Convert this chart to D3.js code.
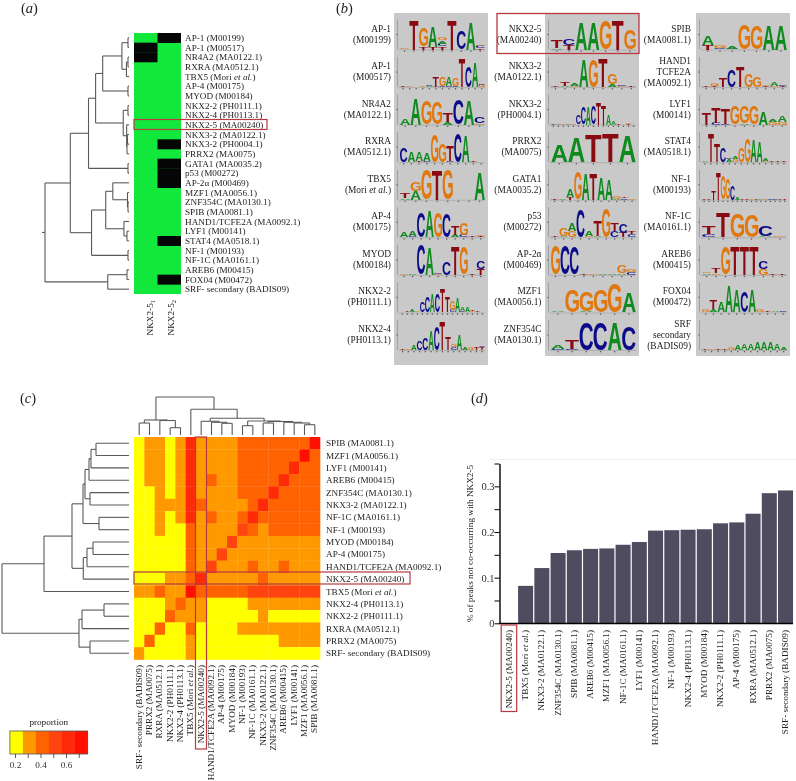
<!DOCTYPE html>
<html><head><meta charset="utf-8">
<script src="https://cdn.jsdelivr.net/npm/d3@7"></script>
<style>
html,body{margin:0;padding:0;background:#fff}
svg{display:block;filter:blur(0.3px)}
text{font-family:"Liberation Serif",serif;fill:#222}
</style></head><body>
<svg id="c" width="796" height="781"></svg>
<script>
// ---------- Panel (a) ----------
const aLabels=["AP-1 (M00199)","AP-1 (M00517)","NR4A2 (MA0122.1)","RXRA (MA0512.1)","TBX5 (Mori et al.)","AP-4 (M00175)","MYOD (M00184)","NKX2-2 (PH0111.1)","NKX2-4 (PH0113.1)","NKX2-5 (MA00240)","NKX3-2 (MA0122.1)","NKX3-2 (PH0004.1)","PRRX2 (MA0075)","GATA1 (MA0035.2)","p53 (M00272)","AP-2α (M00469)","MZF1 (MA0056.1)","ZNF354C (MA0130.1)","SPIB (MA0081.1)","HAND1/TCFE2A (MA0092.1)","LYF1 (M00141)","STAT4 (MA0518.1)","NF-1 (M00193)","NF-1C (MA0161.1)","AREB6 (M00415)","FOX04 (M00472)","SRF- secondary (BADIS09)"];
const aAbsentCol1=[1,2];
const aAbsentCol2=[0,11,13,14,15,21,25];
// nested merges: [height, childA, childB]; numbers are leaf rows
const aTree=[83,
 [58,
  [40,
   [33,
    [26,[7,[1,0,1],[2.5,[1,2,3],4]],[1,5,6]],
    [5.7,[1,7,8],[2.3,9,[2,[1.5,10,11],12]]]],
   [1,13,14]],
  [37,
   [23,[16,15,[1.5,16,[1,17,18]]],[5,19,[2,20,21]]],
   [1,22,23]]],
 [21,[2,24,25],26]];

// ---------- Panel (b) : sequence logos, bottom-up letter stacks, 10 = tallest ----------
const bCol1=[
 {name:["AP-1","(M00199)"],logo:["G.4","T10","T1G6","T1A7","T1C1A1G1","T10","C6","A9","T.4C.8G.6"]},
 {name:["AP-1","(M00517)"],logo:["T.5","G.2","-","G.4","A.4C.2","T.4T3","C.3G3","C.3A3","C.3G2.5","T9.5","C7","A8","G.8C.3"]},
 {name:["NR4A2","(MA0122.1)"],logo:["A2","A8.5","G8","G7.5","A1T3","C8.5","A8","G.5C2"]},
 {name:["RXRA","(MA0512.1)"],logo:["C5","A3.5","T.3A3","C.5A2.5","G9","G6","C.5T5","C9.5","A8.5","T.5","-"]},
 {name:["TBX5","(Mori et al.)"],logo:["A.5T1.5","A3G3","G10","T10","G10","-","-","A9"]},
 {name:["AP-4","(M00175)"],logo:["A1.5","C.5A1.5","C8.5","A8.5","G8.5","C8","A.7T3","C.7G4","T.5","T.3G.3"]},
 {name:["MYOD","(M00184)"],logo:["G.2","A.5","C10","A9","G.4C.3","C4.5","T9.5","G9","T.4","T2C2.5"]},
 {name:["NKX2-2","(PH0111.1)"],logo:["-","T.3","A.6","G.6","C3.5","C5.3","A6","C6.2","T7.8","T5","C.8G3","A4.5","C.5A1.3","A1.5","G.4T.5","T.4","-"]},
 {name:["NKX2-4","(PH0113.1)"],logo:["T.3","G.5","A1.5","C3","C4","A6.5","C8","T9.5","T4.5","C1G.8","A5","A1","G1","T1","T1C.5"]}
];
const bCol2=[
 {name:["NKX2-5","(MA00240)"],logo:["A.5T2.5","T1.5C2","A9","A9","G9.5","T9.8","G6.5"]},
 {name:["NKX3-2","(MA0122.1)"],logo:["T.2","A.2T1.3","G.2A.7","A9","G9","T9.5","A1G3.3","G.3C.3","T.2"]},
 {name:["NKX3-2","(PH0004.1)"],logo:["T.2","A.3","G.5","A.4","G.6","C3","C5.5","A6","C6","T7.5","T6.5","A3.5","A1.2","T.2","-","T.3G.5","-"]},
 {name:["PRRX2","(MA0075)"],logo:["A5.5","A8","T9","T9.5","A8.5"]},
 {name:["GATA1","(MA0035.2)"],logo:["T.2","A.3","T1A2.5","G9","A8.5","T8.5","A7.5","A7","A.3G1","C.5T.2","G.2"]},
 {name:["p53","(M00272)"],logo:["T.2","A.5G2.5","G2A2.5","C9","G.5A1.5","A.5T5","G9.5","C2T2.5","T1.5C3","C1T1"]},
 {name:["AP-2α","(M00469)"],logo:["G9.5","C9.5","C9","T.2","G.2","A.2","A.5","A.5G2.5","C1G1"]},
 {name:["MZF1","(MA0056.1)"],logo:["A.2","G7.5","A.5G6.5","G7.5","G9.5","A6.5"]},
 {name:["ZNF354C","(MA0130.1)"],logo:["C.5A1.2","C.5T3","C9","C9","A9","C8"]}
];
const bCol3=[
 {name:["SPIB","(MA0081.1)"],logo:["T1.5A3","C.5G1","C.3A.7","G8.5","G8","A8","A8"]},
 {name:["HAND1","TCFE2A","(MA0092.1)"],logo:["T.2","T.5G.8","T3","C5.5","T7","G4.5","G3.5","T.3G.5","G.3A1.2","T.5C.5"]},
 {name:["LYF1","(M00141)"],logo:["T4","C.7T5","C.3T5","G6","A.3G5.5","G6","A4.2","G1A.8","G1A2"]},
 {name:["STAT4","(MA0518.1)"],logo:["A.5","T9.5","T6","C4.8","A1C.6","G1A1","G5","G8","A7.5","A7","G.5A1","T.2","T.2","T.4"]},
 {name:["NF-1","(M00193)"],logo:["T.2","T.2","T3","T9","G8","G7","C5","A.6","T.2","T.3","G.2","T.2","A.5","G.4","C.6","C.5","T.2","T.2"]},
 {name:["NF-1C","(MA0161.1)"],logo:["C1T2.5","T8","G8","G7.5","A.5C3.5","G.4"]},
 {name:["AREB6","(M00415)"],logo:["A.5G.5","G.5T1.5","G9","T9.5","T9.5","T9.5","G2C2.5","T.2","T.2"]},
 {name:["FOX04","(M00472)"],logo:["G1","A1T3","A3.5","A8.5","A7.5","C7","A7.5","G.8","T.2","A.3","C.2"]},
 {name:["SRF","secondary","(BADIS09)"],logo:["T.2","G.2","T.3","T.2","G1","A1.5","A2","A2","A2.5","A2.5","A2.5","A2","A1"]}
];

// ---------- Panel (c) ----------
const cRows=["SPIB (MA0081.1)","MZF1 (MA0056.1)","LYF1 (M00141)","AREB6 (M00415)","ZNF354C (MA0130.1)","NKX3-2 (MA0122.1)","NF-1C (MA0161.1)","NF-1 (M00193)","MYOD (M00184)","AP-4 (M00175)","HAND1/TCFE2A (MA0092.1)","NKX2-5 (MA00240)","TBX5 (Mori et al.)","NKX2-4 (PH0113.1)","NKX2-2 (PH0111.1)","RXRA (MA0512.1)","PRRX2 (MA0075)","SRF- secondary (BADIS09)"];
const cCols=["SRF- secondary (BADIS09)","PRRX2 (MA0075)","RXRA (MA0512.1)","NKX2-2 (PH0111.1)","NKX2-4 (PH0113.1)","TBX5 (Mori et al.)","NKX2-5 (MA00240)","HAND1/TCFE2A (MA0092.1)","AP-4 (M00175)","MYOD (M00184)","NF-1 (M00193)","NF-1C (MA0161.1)","NKX3-2 (MA0122.1)","ZNF354C (MA0130.1)","AREB6 (M00415)","LYF1 (M00141)","MZF1 (MA0056.1)","SPIB (MA0081.1)"];
// proportion in tenths
const cMatrix=[
 [2,3,3,2,3,6,3,3,3,3,4,4,4,4,4,4,4,7],
 [2,3,3,2,3,6,3,3,3,3,4,4,4,4,4,4,7,4],
 [2,3,3,2,3,6,3,3,3,3,4,4,4,4,4,6,4,4],
 [2,3,3,2,3,6,3,4,3,3,4,4,4,4,6,4,4,4],
 [2,2,3,2,3,6,3,3,3,3,4,4,4,6,4,4,4,4],
 [2,2,3,3,3,6,4,3,3,3,3,4,6,4,4,4,4,4],
 [2,2,3,2,3,6,3,4,3,3,4,6,4,4,4,4,4,4],
 [2,2,3,2,2,4,3,3,3,3,5,4,3,4,4,4,4,4],
 [2,2,2,2,2,4,3,3,3,5,3,3,3,3,3,3,3,3],
 [2,2,2,2,2,4,3,3,5,3,3,3,3,3,3,3,3,3],
 [2,2,2,2,2,4,3,5,3,3,3,4,3,3,4,3,3,3],
 [2,2,2,3,3,4,6,3,3,3,3,3,4,3,3,3,3,3],
 [3,3,4,3,3,7,4,4,4,4,4,5,5,5,5,5,5,5],
 [2,2,2,3,4,3,3,2,2,2,2,3,3,3,3,3,3,3],
 [2,2,2,4,3,3,3,2,2,2,2,2,3,2,2,2,2,2],
 [2,2,4,2,2,4,2,2,2,2,3,3,3,3,3,3,3,3],
 [2,4,2,2,2,3,2,2,2,2,2,2,2,2,3,3,3,3],
 [3,2,2,2,2,3,2,2,2,2,2,2,2,2,2,2,2,2]];
const cRowTree=[127,
 [85,
  [57,
   [46,[44,[40,[38,[33,0,1],2],3],[39,4,5]],[30,6,7]],
   [45.7,[42,[36,8,9],10],11]],
  12],
 [50,[47,[25,13,14],15],[39,16,17]]];
const cColTree=[38,
 [15,[12,0,1],[14.5,2,[7.3,3,4]]],
 [25.7,5,
  [16.7,
   [13.7,6,[12.7,7,[11.7,8,9]]],
   [14,[9.3,10,11],[13.5,[12,12,13],[12.7,14,[12,15,[10.3,16,17]]]]]]]];
const legendColors=["#ffff00","#ff9900","#ff6200","#ff4410","#ff2a08","#ff0f00"];
const legendTicks=[0.2,0.3,0.4,0.5,0.6,0.7];

// ---------- Panel (d) ----------
const dNames=["NKX2-5 (MA00240)","TBX5 (Mori et al.)","NKX3-2 (MA0122.1)","ZNF354C (MA0130.1)","SPIB (MA0081.1)","AREB6 (M00415)","MZF1 (MA0056.1)","NF-1C (MA0161.1)","LYF1 (M00141)","HAND1/TCFE2A (MA0092.1)","NF-1 (M00193)","NKX2-4 (PH0113.1)","MYOD (M00184)","NKX2-2 (PH0111.1)","AP-4 (M00175)","RXRA (MA0512.1)","PRRX2 (MA0075)","SRF- secondary (BADIS09)"];
const dValues=[0,0.082,0.121,0.154,0.160,0.163,0.164,0.172,0.178,0.203,0.204,0.205,0.206,0.219,0.221,0.240,0.285,0.291];
const dTicks=[0,0.05,0.1,0.15,0.2,0.25,0.3,0.35];

// ---------- helpers ----------
const svg=d3.select("#c");
const FS=9.2, RED="#b8393f";
function label(g,str){ // writes text with "et al." in italics
  const m=str.match(/^(.*?)(et al\.)(.*)$/);
  if(!m){g.text(str);return g;}
  g.append("tspan").text(m[1]);
  g.append("tspan").style("font-style","italic").text(m[2]);
  if(m[3])g.append("tspan").text(m[3]);
  return g;
}
function dendro(g,tree,leafPos,hPos,horizontal){
  const root=d3.hierarchy(tree,d=>Array.isArray(d)?d.slice(1):null);
  root.eachAfter(n=>{
    if(n.children){n.h=n.data[0];n.p=d3.mean(n.children,c=>c.p);}
    else{n.h=0;n.p=leafPos(n.data);}
  });
  const seg=[];
  root.each(n=>{
    if(!n.children)return;
    const a=n.children[0],b=n.children[1];
    seg.push([hPos(a.h),a.p,hPos(n.h),a.p],[hPos(n.h),a.p,hPos(n.h),b.p],[hPos(n.h),b.p,hPos(b.h),b.p]);
  });
  g.selectAll("line").data(seg).join("line")
   .attr("x1",d=>horizontal?d[0]:d[1]).attr("y1",d=>horizontal?d[1]:d[0])
   .attr("x2",d=>horizontal?d[2]:d[3]).attr("y2",d=>horizontal?d[3]:d[2])
   .attr("stroke","#5a5a5a").attr("stroke-width",1.1);
  return root;
}
function redBox(x,y,w,h,sw){
  svg.append("rect").attr("x",x).attr("y",y).attr("width",w).attr("height",h)
    .attr("fill","none").attr("stroke",RED).attr("stroke-width",sw||1.2);
}
function panelTag(x,y,ch){
  const t=svg.append("text").attr("x",x).attr("y",y).attr("font-size",14.5);
  t.append("tspan").text("(");
  t.append("tspan").style("font-style","italic").text(ch);
  t.append("tspan").text(")");
}
panelTag(21,13,"a");panelTag(336,13,"b");panelTag(20,403,"c");panelTag(471,403,"d");

// ---------- draw (a) ----------
{
  const y=d3.scaleBand().domain(d3.range(aLabels.length)).range([33,294]);
  const x=d3.scaleBand().domain([0,1]).range([134,181]);
  const g=svg.append("g");
  g.append("rect").attr("x",x.range()[0]).attr("y",33).attr("width",47).attr("height",261).attr("fill","#12e83c");
  [[0,aAbsentCol1],[1,aAbsentCol2]].forEach(([c,rows])=>{
    g.selectAll(null).data(rows).join("rect")
     .attr("x",x(c)).attr("y",d=>y(d)).attr("width",x.bandwidth()).attr("height",y.bandwidth()+.3).attr("fill","#050505");
  });
  svg.append("g").selectAll("text").data(aLabels).join("text")
    .attr("x",185).attr("font-size",FS).each(function(d,i){
      label(d3.select(this).attr("y",y(i)+y.bandwidth()/2+3),d);
    });
  const h=d3.scaleLinear().domain([0,83]).range([129,45]);
  const root=dendro(svg.append("g"),aTree,i=>y(i)+y.bandwidth()/2,h,true);
  svg.append("line").attr("x1",42).attr("x2",h(83)).attr("y1",root.p).attr("y2",root.p).attr("stroke","#5a5a5a").attr("stroke-width",1.1);
  redBox(134,119.5,133,10);
  const sets=[["NKX2-5","1",153],["NKX2-5","2",174]];
  sets.forEach(s=>{
    const t=svg.append("text").attr("transform",`translate(${s[2]},300) rotate(-90)`).attr("text-anchor","end").attr("font-size",FS);
    t.append("tspan").text(s[0]);
    t.append("tspan").attr("font-size",6.5).attr("dy",2).text(s[1]);
  });
}

// ---------- draw (b) ----------
{
  const colors={A:"#0f8a1f",C:"#0b0b8a",G:"#e0780f",T:"#8a0a12"};
  const ctx=document.createElement("canvas").getContext("2d");
  ctx.font='bold 100px "Liberation Sans"';
  const metrics={};
  "ACGT".split("").forEach(L=>{
    const m=ctx.measureText(L);
    metrics[L]={l:m.actualBoundingBoxLeft,r:m.actualBoundingBoxRight,a:m.actualBoundingBoxAscent,d:m.actualBoundingBoxDescent};
  });
  const rowY=d3.scaleLinear().domain([0,8]).range([49.5,350]);
  const hgt=d3.scaleLinear().domain([0,10]).range([0,30]);
  const columns=[{data:bCol1,grey:394,labelX:391,bot:365},{data:bCol2,grey:545,labelX:541.5,bot:356},{data:bCol3,grey:696,labelX:691,bot:356}];
  columns.forEach(col=>{
    svg.append("rect").attr("x",col.grey).attr("y",13).attr("width",94).attr("height",col.bot-13).attr("fill","#c9c9c9");
    col.data.forEach((mot,i)=>{
      const base=rowY(i);
      const g=svg.append("g");
      const lh=11, n=mot.name.length;
      mot.name.forEach((s,j)=>{
        const t=svg.append("text").attr("x",col.labelX).attr("y",base-15.5+(j-(n-1)/2)*lh+3).attr("text-anchor","end").attr("font-size",FS+.2);
        label(t,s);
      });
      const x=d3.scaleBand().domain(d3.range(mot.logo.length)).range([col.grey+5.8,col.grey+91]);
      // little logo axis
      g.append("line").attr("x1",col.grey+3.5).attr("x2",col.grey+3.5).attr("y1",base-30).attr("y2",base).attr("stroke","#777").attr("stroke-width",.5);
      g.append("line").attr("x1",col.grey+2).attr("x2",col.grey+3.5).attr("y1",base-15).attr("y2",base-15).attr("stroke","#555").attr("stroke-width",.8);
      g.append("line").attr("x1",col.grey+5).attr("x2",col.grey+91).attr("y1",base+.5).attr("y2",base+.5).attr("stroke","#888").attr("stroke-width",.4);
      mot.logo.forEach((stack,p)=>{
        const cx=x(p)+x.bandwidth()/2;
        g.append("rect").attr("x",cx-.6).attr("y",base+1).attr("width",1.2).attr("height",1.3).attr("fill","#555");
        let y0=base;
        const items=[...stack.matchAll(/([ACGT])([\d.]+)/g)];
        items.forEach(m=>{
          const L=m[1],hh=hgt(+m[2]),w=x.bandwidth()*.96,me=metrics[L];
          const sx=w/(me.l+me.r), sy=hh/(me.a+me.d);
          const ox=cx-w/2+me.l*sx, oy=y0-me.d*sy;
          g.append("text").attr("transform",`translate(${ox},${oy}) scale(${sx},${sy})`)
           .attr("font-size",100).style("font-family",'"Liberation Sans"').style("font-weight","bold").style("fill",colors[L]).text(L);
          y0-=hh;
        });
      });
    });
  });
  redBox(497,13.5,142,40,1.3);
}

// ---------- draw (c) ----------
{
  const x=d3.scaleBand().domain(d3.range(cCols.length)).range([134,320]);
  const y=d3.scaleBand().domain(d3.range(cRows.length)).range([437,659.5]);
  const color=d3.scaleQuantize().domain([1.6,7.7]).range(legendColors);
  const g=svg.append("g");
  cMatrix.forEach((row,r)=>{
    g.selectAll(null).data(row).join("rect")
     .attr("x",(d,c)=>x(c)).attr("y",y(r)).attr("width",x.bandwidth()+.3).attr("height",y.bandwidth()+.3)
     .attr("fill",d=>color(d));
  });
  svg.append("g").selectAll("text").data(cRows).join("text")
    .attr("x",326).attr("font-size",FS).each(function(d,i){
      label(d3.select(this).attr("y",y(i)+y.bandwidth()/2+3),d);
    });
  svg.append("g").selectAll("text").data(cCols).join("text")
    .attr("font-size",FS).attr("text-anchor","end").each(function(d,i){
      const t=d3.select(this).attr("transform",`translate(${x(i)+x.bandwidth()/2+2.5},665) rotate(-90)`);
      label(t,d);
    });
  dendro(svg.append("g"),cRowTree,i=>y(i)+y.bandwidth()/2,d3.scaleLinear().domain([0,127]).range([129,2]),true);
  dendro(svg.append("g"),cColTree,i=>x(i)+x.bandwidth()/2,d3.scaleLinear().domain([0,38]).range([435,397]),false);
  redBox(195.5,437,11,312);
  redBox(134,572,276,12);
  // legend
  const lx=d3.scaleLinear().domain([0.2,0.6]).range([15,66]);
  const dom=[0.16,0.77], bins=d3.range(6).map(i=>dom[0]+(dom[1]-dom[0])*i/6);
  const bw=(dom[1]-dom[0])/6;
  const lg=svg.append("g");
  lg.selectAll("rect").data(bins).join("rect").attr("x",d=>lx(d)).attr("y",731).attr("height",23)
    .attr("width",d=>lx(d+bw)-lx(d)+.2).attr("fill",(d,i)=>legendColors[i]);
  lg.append("rect").attr("x",lx(dom[0])).attr("y",731).attr("width",lx(dom[1])-lx(dom[0])).attr("height",23)
    .attr("fill","none").attr("stroke","#555").attr("stroke-width",.8);
  const ax=d3.axisBottom(lx).tickValues(legendTicks).tickSize(4).tickPadding(3).tickFormat(d=>Math.round(d*10)%2===0?d3.format(".1f")(d):"");
  const ag=svg.append("g").attr("transform","translate(0,754)").call(ax);
  ag.select(".domain").remove();
  ag.selectAll("line").attr("stroke","#333").attr("stroke-width",.8);
  ag.selectAll("text").filter(function(){return !this.textContent;}).remove();
  ag.selectAll("text").attr("font-size",FS).attr("font-family",'"Liberation Serif"').style("fill","#333");
  svg.append("text").attr("x",lx(0.465)).attr("y",725).attr("text-anchor","middle").attr("font-size",FS).text("proportion");
}

// ---------- draw (d) ----------
{
  const y=d3.scaleLinear().domain([0,0.35]).range([623.3,463.5]);
  const x=d3.scaleBand().domain(dNames).range([501.2,793.7]).paddingInner(0.075).paddingOuter(0.04);
  svg.append("line").attr("x1",490).attr("x2",796).attr("y1",459.5).attr("y2",459.5).attr("stroke","#f0f0f0");
  svg.append("g").selectAll("rect").data(dValues).join("rect")
    .attr("x",(d,i)=>x(dNames[i])).attr("y",d=>y(d)).attr("width",x.bandwidth()).attr("height",d=>y(0)-y(d)).attr("fill","#4f4c60");
  const axis=d3.axisLeft(y).tickValues(dTicks).tickSize(5).tickSizeOuter(0).tickPadding(0)
     .tickFormat(d=>Math.round(d*100)%10===0?(d===0?"0":d3.format(".1f")(d)):"");
  const ag=svg.append("g").attr("transform","translate(499.5,0)").call(axis);
  ag.select(".domain").attr("stroke","#000").attr("stroke-width",1.4);
  ag.selectAll("line").attr("stroke","#000").attr("stroke-width",1);
  ag.selectAll("text").filter(function(){return !this.textContent;}).remove();
  ag.selectAll("text").attr("font-size",10.5).attr("font-family",'"Liberation Serif"').style("fill","#333");
  svg.append("line").attr("x1",499).attr("x2",793).attr("y1",y(0)+.2).attr("y2",y(0)+.2).attr("stroke","#000").attr("stroke-width",1.4);
  svg.append("text").attr("transform",`translate(473,543.5) rotate(-90)`).attr("text-anchor","middle").attr("font-size",FS).text("% of peaks not co-occurring with NKX2-5");
  svg.append("g").selectAll("text").data(dNames).join("text")
    .attr("font-size",FS).attr("text-anchor","end").each(function(d){
      const t=d3.select(this).attr("transform",`translate(${x(d)+x.bandwidth()/2+2.5},630) rotate(-90)`);
      label(t,d);
    });
  redBox(501.2,625,15.5,86.5);
}
</script>
</body></html>
